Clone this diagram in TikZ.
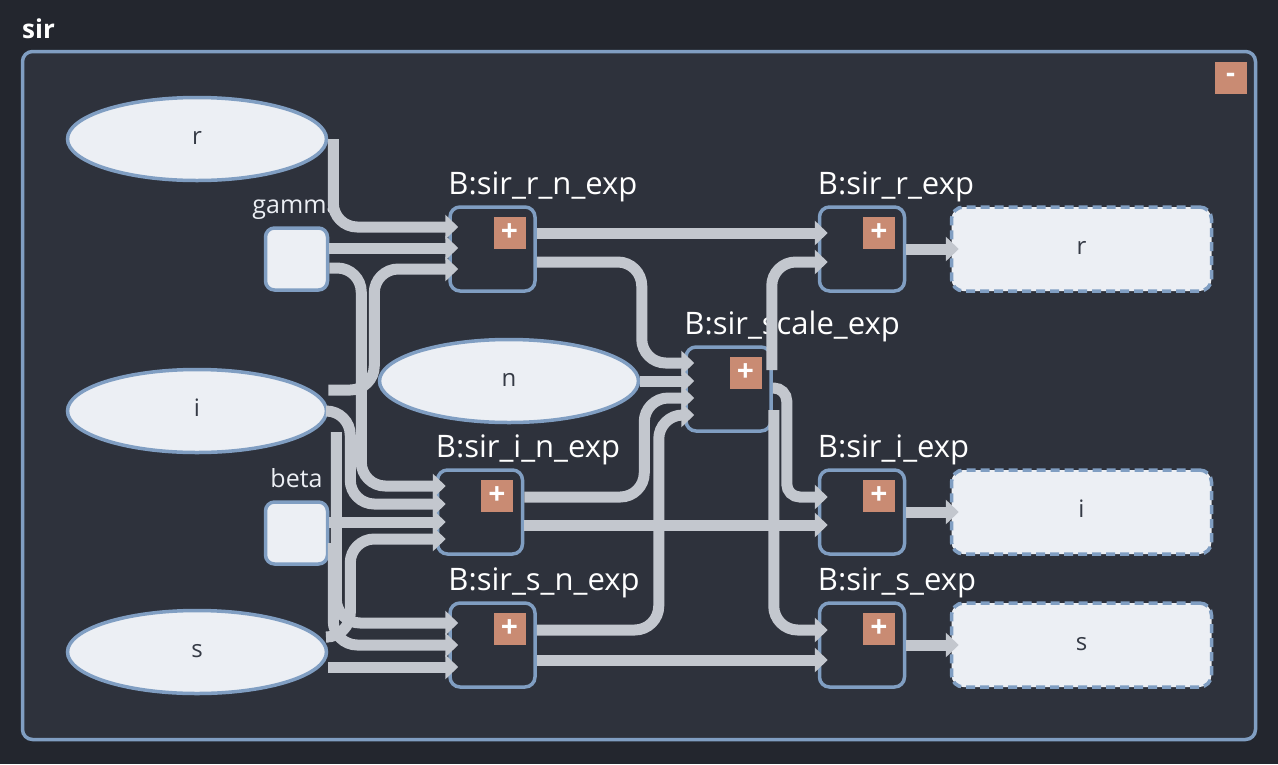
\documentclass[tikz,border=0pt]{standalone}
\usepackage{fontspec}
\setmainfont{Open Sans}
\usetikzlibrary{shapes.geometric,arrows.meta,calc,positioning}
\definecolor{night}{HTML}{23262E}
\definecolor{panel}{HTML}{2E323C}
\definecolor{frost}{HTML}{809EC2}
\definecolor{snow}{HTML}{ECEFF4}
\definecolor{ink}{HTML}{353A45}
\definecolor{wirec}{HTML}{C3C7CE}
\definecolor{clay}{HTML}{C98B73}

\begin{document}
\begin{tikzpicture}[x=1pt,y=-1pt,
  var/.style={ellipse,draw=frost,line width=3.5pt,fill=snow,minimum width=259pt,minimum height=83pt,text=ink,text height=10pt,text depth=0pt,font=\fontsize{24}{24}\selectfont},
  param/.style={draw=frost,line width=3.5pt,fill=snow,rounded corners=9pt,minimum size=62pt},
  block/.style={draw=frost,line width=3.5pt,fill=panel,rounded corners=10pt,minimum width=85pt,minimum height=84pt},
  result/.style={draw=frost,line width=3.5pt,dash pattern=on 9pt off 5pt,fill=snow,rounded corners=12pt,minimum width=260pt,minimum height=84pt,text=ink,text height=10pt,text depth=0pt,font=\fontsize{24}{24}\selectfont},
  button/.style={fill=clay,text=white,minimum size=32pt,inner sep=0pt,font=\bfseries\fontsize{30}{30}\selectfont},
  title/.style={anchor=base west,inner sep=0pt,text=white,font=\fontsize{31}{31}\selectfont},
  pname/.style={anchor=base,inner sep=0pt,text=snow,font=\fontsize{25}{25}\selectfont},
  wire/.style={draw=wirec,line width=11pt,rounded corners=24pt,-{Triangle[length=13pt,width=24pt]}}]
\fill[night] (0,0) rectangle (1278,764);
\useasboundingbox (0,0) rectangle (1278,764);
\node[anchor=base west,inner sep=0pt,text=white,font=\bfseries\fontsize{26}{26}\selectfont] (sirl) at (22,38) {sir};
\draw[frost,line width=3.5pt,fill=panel,rounded corners=10pt] (22.5,51.5) rectangle (1255.5,739.5);
\node[button,font=\bfseries\fontsize{28}{28}\selectfont] (fold) at (1230.5,77.5) {-};

\node[var] (r) at (197,139) {r};
\node[var] (i) at (197,411) {i};
\node[var] (s) at (197,652) {s};
\node[var] (n) at (509,381) {n};
\node[param] (gamma) at (296.5,259) {};
\node[param] (beta) at (296.5,533) {};
\node[pname] (gammal) at ($(gamma.north)+(0,-13)$) {gamma};
\node[pname] (betal) at ($(beta.north)+(0,-13)$) {beta};

\node[block] (rn) at (492.5,249) {};
\node[block] (inn) at (480,512) {};
\node[block] (sn) at (492.5,645) {};
\node[block] (sc) at (728.5,389) {};
\node[block] (re) at (862,249) {};
\node[block] (ie) at (862,512) {};
\node[block] (se) at (862,645) {};
\node[title] (rnl) at ($(rn.north west)+(0,-11)$) {B:sir\_r\_n\_exp};
\node[title] (innl) at ($(inn.north west)+(0,-11)$) {B:sir\_i\_n\_exp};
\node[title] (snl) at ($(sn.north west)+(0,-11)$) {B:sir\_s\_n\_exp};
\node[title] (scl) at ($(sc.north west)+(0,-11)$) {B:sir\_scale\_exp};
\node[title] (rel) at ($(re.north west)+(0,-11)$) {B:sir\_r\_exp};
\node[title] (iel) at ($(ie.north west)+(0,-11)$) {B:sir\_i\_exp};
\node[title] (sel) at ($(se.north west)+(0,-11)$) {B:sir\_s\_exp};
\node[button] (rnp) at ($(rn.center)+(17,-16)$) {+};
\node[button] (innp) at ($(inn.center)+(17,-16)$) {+};
\node[button] (snp) at ($(sn.center)+(17,-16)$) {+};
\node[button] (scp) at ($(sc.center)+(17,-16)$) {+};
\node[button] (rep) at ($(re.center)+(17,-16)$) {+};
\node[button] (iep) at ($(ie.center)+(17,-16)$) {+};
\node[button] (sep) at ($(se.center)+(17,-16)$) {+};

\node[result] (rout) at (1081.5,249) {r};
\node[result] (iout) at (1081.5,512) {i};
\node[result] (sout) at (1081.5,645) {s};

\draw[wire] ($(r.east)+(5,0)$) |- ($(rn.west)+(10,-22)$);
\draw[wire] ($(gamma.east)+(0,-11)$) -- ($(rn.west)+(10,-1)$);
\draw[wire] ($(gamma.east)+(0,9)$) -- ++(32,0) |- ($(inn.west)+(10,-26)$);
\draw[wire] ($(i.east)+(0,-21)$) -- ++(46,0) |- ($(rn.west)+(10,20)$);
\draw[wire] (i.east) -- ++(22,0) |- ($(inn.west)+(10,-8)$);
\draw[wire] ($(i.east)+(8,21)$) |- ($(sn.west)+(10,-22)$);
\draw[wire] ($(beta.east)+(0,-11)$) -- ($(inn.west)+(10,10)$);
\draw[wire] ($(beta.east)+(4,10)$) |- ($(sn.west)+(10,0)$);
\draw[wire] ($(s.east)+(0,-15)$) -- ++(22,0) |- ($(inn.west)+(10,27)$);
\draw[wire] ($(s.east)+(0,15)$) -- ($(sn.west)+(10,22)$);

\draw[wire] ($(rn.east)+(0,-16)$) -- ($(re.west)+(10,-16)$);
\draw[wire] ($(rn.east)+(0,13)$) -- ++(105,0) |- ($(sc.west)+(10,-26)$);
\draw[wire] (n.east) -- ($(sc.west)+(10,-8)$);
\draw[wire] ($(inn.east)+(0,-15)$) -- ++(120,0) |- ($(sc.west)+(10,9)$);
\draw[wire] ($(sn.east)+(0,-15)$) -- ++(122,0) |- ($(sc.west)+(10,26)$);
\draw[wire] ($(inn.east)+(0,13)$) -- ($(ie.west)+(10,13)$);
\draw[wire] ($(sn.east)+(0,15)$) -- ($(se.west)+(10,15)$);

\draw[wire] ($(sc.east)+(-1,-19)$) |- ($(re.west)+(10,13)$);
\draw[wire,rounded corners=13pt] ($(sc.east)+(0,-1)$) -- ++(14,0) |- ($(ie.west)+(10,-15)$);
\draw[wire] ($(sc.east)+(1,21)$) |- ($(se.west)+(10,-15)$);
\draw[wire] (re.east) -- ($(rout.west)+(9,0)$);
\draw[wire] (ie.east) -- ($(iout.west)+(9,0)$);
\draw[wire] (se.east) -- ($(sout.west)+(9,0)$);
\end{tikzpicture}
\end{document}
